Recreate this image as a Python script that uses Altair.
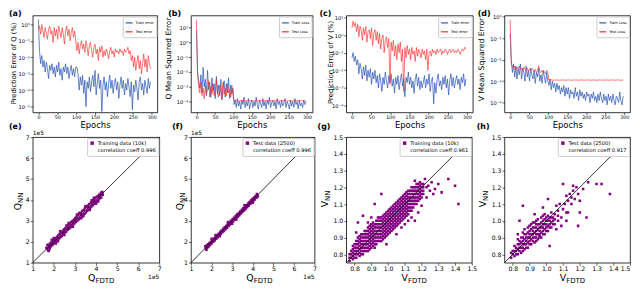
import altair as alt
import pandas as pd

FONT = "DejaVu Sans"
BLUE = "#2a55b3"
RED = "#ff2424"
PURPLE = "#800080"

EPOCHS = list(range(0, 300, 3))

# ---- (a) Prediction error of Q (%) : log10 values ----
a_train = [0.3, -1.6, -2.4, -1.9, -2.6, -2.2, -2.9, -2.3, -2.7, -3.3,
           -2.5, -2.8, -2.4, -3.0, -2.6, -3.2, -2.5, -2.9, -2.3, -3.1,
           -2.7, -3.4, -2.6, -2.9, -2.4, -3.0, -2.6, -3.3, -2.8, -2.5,
           -3.1, -2.7, -3.2, -2.6, -2.6, -3.0, -4.0, -3.2, -3.7, -3.1,
           -4.2, -3.4, -5.0, -3.5, -3.9, -3.2, -4.1, -3.5, -3.1, -3.8,
           -2.8, -4.3, -3.6, -3.0, -3.9, -3.4, -5.3, -3.7, -3.2, -4.0,
           -3.5, -4.4, -3.6, -3.1, -3.9, -3.4, -4.2, -3.6, -3.3, -4.0,
           -3.5, -4.5, -3.7, -3.2, -3.9, -3.4, -4.3, -3.6, -4.0, -3.3,
           -3.8, -4.4, -3.5, -5.2, -3.7, -4.1, -3.4, -3.9, -4.6, -3.5,
           -3.2, -4.0, -3.6, -4.3, -3.4, -3.8, -4.2, -3.3, -3.9, -3.5]
a_test = [-0.3, -0.1, -0.6, 0.0, -0.4, -0.8, -0.2, -0.5, -0.9, -0.3,
          -0.1, -0.6, -0.4, -1.1, -0.2, -0.7, -0.3, -0.9, -0.1, -0.5,
          -0.8, -0.2, -0.6, -1.2, -0.4, -0.1, -0.7, -0.3, -1.0, -0.5,
          -0.2, -0.8, -0.4, -1.0, -1.6, -1.1, -1.8, -1.3, -1.0, -1.5,
          -1.2, -1.7, -1.0, -1.4, -1.9, -1.3, -1.1, -1.6, -2.0, -1.4,
          -1.2, -1.8, -1.5, -2.2, -1.4, -1.7, -1.3, -2.0, -1.6, -1.9,
          -1.5, -1.7, -2.1, -1.6, -1.4, -1.8, -1.6, -2.0, -1.5, -1.7,
          -1.6, -1.8, -1.5, -1.7, -1.6, -1.9, -1.5, -1.7, -1.6, -1.4,
          -1.8, -1.6, -2.2, -1.9, -2.6, -2.0, -2.8, -2.3, -1.9, -2.7,
          -2.2, -3.0, -2.4, -1.8, -2.6, -2.1, -2.9, -1.9, -2.4, -2.7]

# ---- (b) Q mean squared error : log10 values ----
b_train = [0.8, -2.0, -2.6, -3.1, -2.2, -3.4, -1.7, -3.0, -2.5, -3.6,
           -1.9, -3.2, -2.7, -3.7, -2.4, -3.3, -2.8, -3.8, -2.3, -3.5,
           -2.9, -3.6, -2.5, -3.9, -3.0, -2.6, -3.7, -2.8, -3.4, -2.4,
           -3.8, -2.9, -3.5, -3.1, -4.2, -3.9, -4.4, -3.8, -4.3, -4.0,
           -4.5, -3.9, -4.2, -3.7, -4.4, -4.0, -4.3, -3.8, -4.5, -4.1,
           -3.9, -4.4, -4.0, -4.3, -3.7, -4.2, -4.5, -3.9, -4.1, -4.4,
           -3.8, -4.3, -4.0, -4.5, -3.9, -4.2, -3.7, -4.4, -4.1, -3.9,
           -4.3, -4.0, -4.5, -3.8, -4.2, -4.0, -4.4, -3.9, -4.3, -4.1,
           -3.8, -4.4, -4.0, -4.2, -4.5, -3.9, -4.3, -4.0, -4.4, -3.8,
           -4.2, -4.0, -4.5, -3.9, -4.3, -4.1, -4.4, -3.9, -4.2, -4.0]
b_test = [1.5, -2.2, -3.0, -3.4, -2.7, -3.6, -3.1, -3.8, -2.9, -3.5,
          -3.2, -2.6, -3.7, -3.0, -3.5, -2.8, -3.6, -3.3, -2.5, -3.4,
          -3.7, -2.9, -3.3, -3.8, -2.7, -3.5, -3.1, -3.6, -2.8, -3.4,
          -3.2, -3.7, -2.9, -3.5, -3.95, -3.95, -3.9, -3.95, -4.0, -3.95,
          -3.95, -3.93, -3.96, -3.94, -3.97, -3.95, -3.92, -3.96, -3.94, -3.95,
          -3.96, -3.94, -3.95, -3.97, -3.93, -3.95, -3.96, -3.94, -3.95, -3.93,
          -3.95, -3.97, -3.94, -3.95, -3.96, -3.93, -3.95, -3.94, -3.96, -3.95,
          -3.94, -3.96, -3.95, -3.93, -3.95, -3.97, -3.94, -3.95, -3.96, -3.94,
          -3.95, -3.93, -3.96, -3.95, -3.94, -3.96, -3.95, -3.97, -3.94, -3.95,
          -3.96, -3.94, -3.95, -3.93, -3.95, -3.96, -3.94, -3.95, -3.97, -3.95]

# ---- (c) Prediction error of V (%) : log10 values ----
c_train = [-1.3, -1.0, -1.5, -1.2, -1.7, -1.4, -2.2, -1.6, -1.9, -2.5,
           -1.8, -2.3, -1.7, -2.6, -2.0, -2.4, -1.9, -2.8, -2.1, -2.5,
           -2.0, -2.7, -2.3, -3.0, -2.2, -2.6, -3.2, -2.4, -2.8, -2.1,
           -2.6, -3.0, -2.3, -2.7, -2.2, -2.9, -2.5, -3.3, -2.4, -2.8,
           -2.3, -3.1, -2.6, -2.2, -2.9, -2.5, -3.5, -2.4, -2.7, -2.1,
           -2.8, -2.4, -3.0, -2.6, -3.3, -2.5, -2.2, -2.9, -2.4, -3.1,
           -2.6, -3.0, -2.7, -2.3, -3.0, -2.5, -2.8, -2.2, -3.2, -2.6,
           -2.4, -3.9, -2.7, -3.3, -2.5, -2.2, -2.9, -2.6, -3.1, -2.4,
           -2.8, -2.3, -3.0, -2.5, -3.4, -2.6, -2.2, -2.9, -2.4, -3.0,
           -2.6, -2.3, -2.8, -2.5, -3.1, -2.4, -2.7, -2.2, -2.9, -2.5]
c_test = [0.4, 0.8, 0.5, 0.7, 0.2, 0.6, -0.1, 0.5, 0.3, -0.3,
          0.4, 0.0, 0.5, -0.4, 0.2, 0.3, -0.2, 0.4, -0.6, 0.1,
          0.3, -0.3, 0.2, -0.5, 0.1, -0.8, -0.2, 0.0, -1.0, -0.3,
          -0.1, -0.7, -0.2, -2.8, -0.4, -0.9, -0.3, -1.2, -0.6, -1.4,
          -0.5, -1.0, -0.4, -1.5, -0.8, -3.2, -0.7, -1.3, -0.6, -1.1,
          -0.8, -1.4, -0.7, -1.1, -0.9, -1.5, -0.7, -1.2, -0.8, -1.0,
          -1.3, -0.8, -1.1, -0.9, -1.4, -0.8, -2.0, -1.0, -0.9, -1.2,
          -0.8, -1.0, -0.9, -1.1, -0.8, -1.0, -0.9, -0.8, -1.1, -0.9,
          -1.0, -0.8, -0.9, -1.1, -0.9, -0.8, -1.0, -0.9, -0.8, -1.0,
          -0.9, -1.0, -0.8, -0.9, -1.1, -0.9, -0.8, -0.9, -0.7, -0.8]

# ---- (d) V mean squared error : log10 values ----
d_train = [-0.8, -2.0, -2.6, -2.2, -2.8, -2.3, -2.9, -2.4, -2.7, -2.2,
           -2.9, -2.4, -2.6, -3.0, -2.3, -2.8, -2.5, -3.0, -2.4, -2.7,
           -2.9, -2.5, -3.1, -2.6, -2.8, -2.4, -3.0, -2.7, -3.1, -2.5,
           -2.8, -3.1, -2.6, -3.0, -3.2, -2.9, -3.4, -3.0, -3.3, -3.1,
           -3.5, -3.1, -3.4, -3.2, -3.6, -3.3, -3.5, -3.2, -3.7, -3.3,
           -3.6, -3.3, -3.8, -3.4, -3.6, -3.5, -3.8, -3.3, -3.7, -3.5,
           -3.9, -3.4, -3.7, -3.5, -3.8, -3.6, -3.9, -3.5, -3.7, -3.6,
           -4.0, -3.6, -3.8, -3.5, -3.9, -3.7, -4.0, -3.6, -3.9, -3.5,
           -3.8, -4.0, -3.6, -3.9, -3.7, -4.1, -3.6, -3.9, -3.7, -4.0,
           -3.6, -3.9, -4.1, -3.7, -3.8, -4.0, -3.5, -3.9, -4.1, -3.7]
d_test = [-0.15, -2.2, -2.3, -2.4, -2.3, -2.5, -2.35, -2.4, -2.3, -2.45,
          -2.4, -2.5, -2.35, -2.45, -2.5, -2.4, -2.55, -2.45, -2.5, -2.4,
          -2.5, -2.55, -2.45, -2.6, -2.5, -2.3, -2.55, -2.6, -2.5, -2.6,
          -2.55, -2.65, -2.5, -2.6, -2.95, -2.95, -2.94, -2.95, -2.96, -2.95,
          -2.95, -2.94, -2.95, -2.96, -2.95, -2.95, -2.94, -2.95, -2.95, -2.96,
          -2.95, -2.94, -2.95, -2.95, -2.96, -2.95, -2.94, -2.95, -2.95, -2.95,
          -2.96, -2.95, -2.94, -2.95, -2.95, -2.96, -2.95, -2.94, -2.95, -2.95,
          -2.95, -2.96, -2.95, -2.94, -2.95, -2.95, -2.96, -2.95, -2.94, -2.95,
          -2.95, -2.95, -2.96, -2.95, -2.94, -2.95, -2.95, -2.96, -2.95, -2.94,
          -2.95, -2.95, -2.96, -2.95, -2.94, -2.95, -2.95, -2.96, -2.95, -2.95]

# ---- (e) Q training scatter (x1e5) ----
e_pts = [(1.68, 1.72), (1.72, 1.60), (1.75, 1.86), (1.78, 1.74), (1.82, 1.92), (1.85, 1.78), (1.88, 1.97), (1.92, 1.84), (1.95, 2.04), (1.98, 1.90),
         (2.02, 2.10), (2.05, 1.96), (2.08, 2.17), (2.12, 2.03), (2.15, 2.24), (2.18, 2.10), (2.22, 2.31), (2.25, 2.16), (2.28, 2.38), (2.32, 2.22),
         (2.35, 2.45), (2.38, 2.28), (2.42, 2.52), (2.45, 2.36), (2.48, 2.59), (2.52, 2.44), (2.55, 2.65), (2.58, 2.48), (2.62, 2.73), (2.65, 2.56),
         (2.68, 2.79), (2.72, 2.62), (2.75, 2.85), (2.78, 2.68), (2.82, 2.93), (2.85, 2.76), (2.88, 2.99), (2.92, 2.82), (2.95, 3.05), (2.98, 2.88),
         (3.02, 3.13), (3.05, 2.94), (3.08, 3.19), (3.12, 3.02), (3.15, 3.27), (3.18, 3.08), (3.22, 3.33), (3.25, 3.14), (3.28, 3.39), (3.32, 3.20),
         (3.35, 3.47), (3.38, 3.28), (3.42, 3.53), (3.45, 3.34), (3.48, 3.61), (3.52, 3.40), (3.55, 3.67), (3.58, 3.48), (3.62, 3.73), (3.65, 3.54),
         (3.68, 3.79), (3.72, 3.60), (3.75, 3.87), (3.78, 3.68), (3.82, 3.93), (3.85, 3.74), (3.88, 3.99), (3.92, 3.82), (3.95, 4.07), (3.98, 3.88),
         (4.02, 4.13), (4.05, 3.94), (4.08, 4.19), (4.12, 4.02), (4.15, 4.25), (4.18, 4.08), (4.22, 4.29), (4.25, 4.12), (4.28, 4.31), (1.80, 1.66),
         (2.40, 2.46), (3.00, 3.06), (3.60, 3.66), (4.20, 4.20), (2.70, 2.66), (3.30, 3.28), (1.76, 1.56), (2.10, 2.12), (3.90, 3.92), (2.90, 2.95),
         (1.70, 1.85), (1.90, 2.10), (2.10, 1.92), (2.30, 2.50), (2.50, 2.32), (2.70, 2.90), (2.90, 2.72), (3.10, 3.30), (3.30, 3.12), (3.50, 3.70),
         (3.70, 3.52), (3.90, 4.10), (4.10, 3.92), (2.00, 2.18), (2.60, 2.78), (3.20, 3.38), (3.80, 3.98), (2.20, 2.02), (3.40, 3.22), (4.00, 3.82),
         (4.30, 4.38), (4.25, 4.35), (1.65, 1.70), (4.32, 4.25)]

# ---- (f) Q test scatter (x1e5) ----
f_pts = [(1.70, 1.78), (1.73, 1.66), (1.76, 1.82), (1.79, 1.72), (1.83, 1.88), (1.86, 1.78), (1.90, 1.94), (1.93, 1.85), (1.97, 2.00), (2.00, 1.92),
         (2.04, 2.08), (2.08, 2.00), (2.12, 2.16), (2.15, 2.06), (2.19, 2.24), (2.23, 2.14), (2.27, 2.31), (2.30, 2.22), (2.34, 2.38), (2.38, 2.30),
         (2.42, 2.47), (2.45, 2.37), (2.49, 2.54), (2.53, 2.45), (2.57, 2.62), (2.60, 2.52), (2.64, 2.69), (2.68, 2.60), (2.72, 2.77), (2.75, 2.67),
         (2.79, 2.85), (2.83, 2.75), (2.87, 2.92), (2.90, 2.82), (2.94, 3.00), (2.98, 2.90), (3.02, 3.08), (3.05, 2.97), (3.09, 3.15), (3.13, 3.05),
         (3.17, 3.23), (3.20, 3.12), (3.24, 3.30), (3.28, 3.20), (3.32, 3.38), (3.35, 3.27), (3.39, 3.45), (3.43, 3.35), (3.47, 3.53), (3.50, 3.42),
         (3.54, 3.60), (3.58, 3.50), (3.62, 3.68), (3.65, 3.57), (3.69, 3.75), (3.73, 3.65), (3.77, 3.83), (3.80, 3.72), (3.84, 3.90), (3.88, 3.80),
         (3.92, 3.98), (3.95, 3.87), (3.99, 4.05), (4.03, 3.95), (4.07, 4.12), (4.10, 4.02), (4.14, 4.19), (4.18, 4.10), (4.22, 4.24), (4.25, 4.16),
         (1.75, 1.62), (2.00, 2.14), (2.40, 2.26), (2.80, 2.94), (3.20, 3.06), (3.60, 3.74), (4.00, 3.86), (4.20, 4.28), (2.20, 2.32), (3.00, 2.86)]

# ---- (g) V training scatter ----
g_pts = [(0.77, 0.76), (0.77, 0.78), (0.77, 0.80),
         (0.79, 0.77), (0.79, 0.79), (0.79, 0.81), (0.79, 0.83), (0.79, 0.85),
         (0.81, 0.78), (0.81, 0.80), (0.81, 0.82), (0.81, 0.84), (0.81, 0.86), (0.81, 0.88),
         (0.83, 0.79), (0.83, 0.81), (0.83, 0.83), (0.83, 0.85), (0.83, 0.87), (0.83, 0.89), (0.83, 0.91),
         (0.85, 0.80), (0.85, 0.82), (0.85, 0.84), (0.85, 0.86), (0.85, 0.88), (0.85, 0.90), (0.85, 0.92),
         (0.87, 0.82), (0.87, 0.84), (0.87, 0.86), (0.87, 0.88), (0.87, 0.90), (0.87, 0.92), (0.87, 0.94),
         (0.89, 0.83), (0.89, 0.85), (0.89, 0.87), (0.89, 0.89), (0.89, 0.91), (0.89, 0.93), (0.89, 0.95), (0.89, 0.97),
         (0.91, 0.85), (0.91, 0.87), (0.91, 0.89), (0.91, 0.91), (0.91, 0.93), (0.91, 0.95), (0.91, 0.97), (0.91, 0.99),
         (0.93, 0.86), (0.93, 0.88), (0.93, 0.90), (0.93, 0.92), (0.93, 0.94), (0.93, 0.96), (0.93, 0.98), (0.93, 1.00),
         (0.95, 0.88), (0.95, 0.90), (0.95, 0.92), (0.95, 0.94), (0.95, 0.96), (0.95, 0.98), (0.95, 1.00), (0.95, 1.02),
         (0.97, 0.89), (0.97, 0.91), (0.97, 0.93), (0.97, 0.95), (0.97, 0.97), (0.97, 0.99), (0.97, 1.01), (0.97, 1.03),
         (0.99, 0.91), (0.99, 0.93), (0.99, 0.95), (0.99, 0.97), (0.99, 0.99), (0.99, 1.01), (0.99, 1.03), (0.99, 1.05),
         (1.01, 0.93), (1.01, 0.95), (1.01, 0.97), (1.01, 0.99), (1.01, 1.01), (1.01, 1.03), (1.01, 1.05), (1.01, 1.07),
         (1.03, 0.95), (1.03, 0.97), (1.03, 0.99), (1.03, 1.01), (1.03, 1.03), (1.03, 1.05), (1.03, 1.07), (1.03, 1.09),
         (1.05, 0.97), (1.05, 0.99), (1.05, 1.01), (1.05, 1.03), (1.05, 1.05), (1.05, 1.07), (1.05, 1.09), (1.05, 1.11),
         (1.07, 0.99), (1.07, 1.01), (1.07, 1.03), (1.07, 1.05), (1.07, 1.07), (1.07, 1.09), (1.07, 1.11), (1.07, 1.13),
         (1.09, 1.01), (1.09, 1.03), (1.09, 1.05), (1.09, 1.07), (1.09, 1.09), (1.09, 1.11), (1.09, 1.13), (1.09, 1.15),
         (1.11, 1.03), (1.11, 1.05), (1.11, 1.07), (1.11, 1.09), (1.11, 1.11), (1.11, 1.13), (1.11, 1.15), (1.11, 1.17),
         (1.13, 1.06), (1.13, 1.08), (1.13, 1.10), (1.13, 1.12), (1.13, 1.14), (1.13, 1.16), (1.13, 1.18),
         (1.15, 1.08), (1.15, 1.10), (1.15, 1.12), (1.15, 1.14), (1.15, 1.16), (1.15, 1.18), (1.15, 1.20),
         (1.17, 1.10), (1.17, 1.12), (1.17, 1.14), (1.17, 1.16), (1.17, 1.18), (1.17, 1.20), (1.17, 1.22),
         (1.19, 1.13), (1.19, 1.15), (1.19, 1.17), (1.19, 1.19), (1.19, 1.21),
         (1.21, 1.16), (1.21, 1.18), (1.21, 1.20), (1.21, 1.22),
         (0.78, 0.78), (0.78, 0.80), (0.78, 0.82),
         (0.80, 0.78), (0.80, 0.80), (0.80, 0.82), (0.80, 0.84), (0.80, 0.86),
         (0.82, 0.80), (0.82, 0.82), (0.82, 0.84), (0.82, 0.86), (0.82, 0.88), (0.82, 0.90),
         (0.84, 0.80), (0.84, 0.82), (0.84, 0.84), (0.84, 0.86), (0.84, 0.88), (0.84, 0.90), (0.84, 0.92),
         (0.86, 0.82), (0.86, 0.84), (0.86, 0.86), (0.86, 0.88), (0.86, 0.90), (0.86, 0.92), (0.86, 0.94),
         (0.88, 0.82), (0.88, 0.84), (0.88, 0.86), (0.88, 0.88), (0.88, 0.90), (0.88, 0.92), (0.88, 0.94), (0.88, 0.96),
         (0.90, 0.84), (0.90, 0.86), (0.90, 0.88), (0.90, 0.90), (0.90, 0.92), (0.90, 0.94), (0.90, 0.96), (0.90, 0.98),
         (0.92, 0.86), (0.92, 0.88), (0.92, 0.90), (0.92, 0.92), (0.92, 0.94), (0.92, 0.96), (0.92, 0.98),
         (0.94, 0.88), (0.94, 0.90), (0.94, 0.92), (0.94, 0.94), (0.94, 0.96), (0.94, 0.98), (0.94, 1.00), (0.94, 1.02),
         (0.96, 0.88), (0.96, 0.90), (0.96, 0.92), (0.96, 0.94), (0.96, 0.96), (0.96, 0.98), (0.96, 1.00), (0.96, 1.02),
         (0.98, 0.90), (0.98, 0.92), (0.98, 0.94), (0.98, 0.96), (0.98, 0.98), (0.98, 1.00), (0.98, 1.02), (0.98, 1.04),
         (1.00, 0.92), (1.00, 0.94), (1.00, 0.96), (1.00, 0.98), (1.00, 1.00), (1.00, 1.02), (1.00, 1.04), (1.00, 1.06),
         (1.02, 0.94), (1.02, 0.96), (1.02, 0.98), (1.02, 1.00), (1.02, 1.02), (1.02, 1.04), (1.02, 1.06), (1.02, 1.08),
         (1.04, 0.96), (1.04, 0.98), (1.04, 1.00), (1.04, 1.02), (1.04, 1.04), (1.04, 1.06), (1.04, 1.08), (1.04, 1.10),
         (1.06, 0.98), (1.06, 1.00), (1.06, 1.02), (1.06, 1.04), (1.06, 1.06), (1.06, 1.08), (1.06, 1.10), (1.06, 1.12),
         (1.08, 1.00), (1.08, 1.02), (1.08, 1.04), (1.08, 1.06), (1.08, 1.08), (1.08, 1.10), (1.08, 1.12), (1.08, 1.14),
         (1.10, 1.02), (1.10, 1.04), (1.10, 1.06), (1.10, 1.08), (1.10, 1.10), (1.10, 1.12), (1.10, 1.14), (1.10, 1.16),
         (1.12, 1.04), (1.12, 1.06), (1.12, 1.08), (1.12, 1.10), (1.12, 1.12), (1.12, 1.14), (1.12, 1.16), (1.12, 1.18),
         (1.14, 1.06), (1.14, 1.08), (1.14, 1.10), (1.14, 1.12), (1.14, 1.14), (1.14, 1.16), (1.14, 1.18), (1.14, 1.20),
         (1.16, 1.10), (1.16, 1.12), (1.16, 1.14), (1.16, 1.16), (1.16, 1.18), (1.16, 1.20),
         (1.18, 1.12), (1.18, 1.14), (1.18, 1.16), (1.18, 1.18), (1.18, 1.20), (1.18, 1.22),
         (1.20, 1.14), (1.20, 1.16), (1.20, 1.18), (1.20, 1.20), (1.20, 1.22),
         (0.96, 1.16), (0.92, 1.10), (0.82, 0.99), (0.85, 1.03), (0.81, 0.93), (1.14, 1.02), (1.16, 1.00), (1.05, 0.92),
         (0.99, 0.86), (0.92, 0.84), (1.08, 0.96), (1.16, 1.24), (1.19, 1.23), (1.22, 1.25), (1.24, 1.21), (1.26, 1.23),
         (1.28, 1.19), (1.30, 1.22), (1.32, 1.17), (1.25, 1.18), (1.23, 1.20), (1.36, 1.25), (1.40, 1.21), (1.42, 1.10),
         (1.23, 1.14), (1.20, 1.09), (0.88, 0.99), (1.12, 1.00), (1.18, 1.05), (0.90, 1.02), (1.10, 0.98), (1.27, 1.16)]

# ---- (h) V test scatter ----
h_pts = [(0.79, 0.78), (0.79, 0.81),
         (0.81, 0.79), (0.81, 0.82), (0.81, 0.85),
         (0.83, 0.80), (0.83, 0.83), (0.83, 0.86), (0.83, 0.89),
         (0.85, 0.81), (0.85, 0.84), (0.85, 0.87), (0.85, 0.90),
         (0.87, 0.83), (0.87, 0.86), (0.87, 0.89), (0.87, 0.92), (0.87, 0.95),
         (0.89, 0.84), (0.89, 0.87), (0.89, 0.90), (0.89, 0.93), (0.89, 0.96),
         (0.91, 0.86), (0.91, 0.89), (0.91, 0.92), (0.91, 0.95), (0.91, 0.98),
         (0.93, 0.87), (0.93, 0.90), (0.93, 0.93), (0.93, 0.96), (0.93, 0.99),
         (0.95, 0.89), (0.95, 0.92), (0.95, 0.95), (0.95, 0.98), (0.95, 1.01),
         (0.97, 0.90), (0.97, 0.93), (0.97, 0.96), (0.97, 0.99), (0.97, 1.02),
         (0.99, 0.92), (0.99, 0.95), (0.99, 0.98), (0.99, 1.01), (0.99, 1.04),
         (1.01, 0.94), (1.01, 0.97), (1.01, 1.00), (1.01, 1.03),
         (1.03, 0.96), (1.03, 0.99), (1.03, 1.02), (1.03, 1.05),
         (1.05, 0.98), (1.05, 1.01), (1.05, 1.04),
         (1.07, 1.00), (1.07, 1.03), (1.07, 1.06),
         (0.80, 0.80), (0.80, 0.82), (0.82, 0.80), (0.82, 0.82), (0.82, 0.84),
         (0.84, 0.82), (0.84, 0.84), (0.84, 0.86), (0.84, 0.88),
         (0.86, 0.82), (0.86, 0.84), (0.86, 0.86), (0.86, 0.88), (0.86, 0.90),
         (0.88, 0.84), (0.88, 0.86), (0.88, 0.88), (0.88, 0.90), (0.88, 0.92),
         (0.90, 0.86), (0.90, 0.88), (0.90, 0.90), (0.90, 0.92), (0.90, 0.94),
         (0.92, 0.88), (0.92, 0.90), (0.92, 0.92), (0.92, 0.94), (0.92, 0.96),
         (0.94, 0.88), (0.94, 0.90), (0.94, 0.92), (0.94, 0.94), (0.94, 0.96), (0.94, 0.98),
         (0.96, 0.90), (0.96, 0.92), (0.96, 0.94), (0.96, 0.96), (0.96, 0.98),
         (0.98, 0.92), (0.98, 0.94), (0.98, 0.96), (0.98, 0.98), (0.98, 1.00),
         (1.00, 0.94), (1.00, 0.96), (1.00, 0.98), (1.00, 1.00), (1.00, 1.02),
         (1.02, 0.96), (1.02, 0.98), (1.02, 1.00), (1.02, 1.02),
         (1.04, 0.98), (1.04, 1.00), (1.04, 1.02),
         (0.90, 0.97), (0.94, 1.00), (0.98, 1.03), (0.86, 0.93), (0.96, 0.91), (0.92, 0.99),
         (1.09, 1.02), (1.10, 1.07), (1.08, 1.10), (1.12, 1.05), (1.13, 1.12), (1.15, 1.10), (1.14, 1.16), (1.16, 1.18),
         (1.17, 1.13), (1.18, 1.20), (1.12, 1.15), (1.15, 1.14), (1.19, 1.16), (1.16, 1.21), (1.11, 1.10), (1.06, 1.09),
         (0.86, 1.09), (0.84, 1.00), (1.01, 1.13), (0.98, 1.08), (0.93, 1.04), (1.25, 1.23), (1.30, 1.22), (1.33, 1.22),
         (1.38, 1.16), (1.13, 1.05), (1.20, 1.05), (1.24, 1.02), (1.19, 0.97), (1.12, 1.00), (1.02, 0.85), (1.06, 0.95),
         (1.09, 0.97), (1.22, 1.19), (1.20, 1.12), (0.83, 0.92), (1.10, 1.22)]

SUP = str.maketrans("-0123456789", "⁻⁰¹²³⁴⁵⁶⁷⁸⁹")


def pow_expr(ticks):
    expr = "''"
    for t in ticks:
        expr = f"datum.value == {t} ? '10{str(t).translate(SUP)}' : " + expr
    return expr


def tag_layer(text, dx, dy, baseline):
    return alt.Chart(pd.DataFrame({"t": [text]})).mark_text(
        align="left", baseline=baseline, fontSize=8, fontWeight="bold", font=FONT, color="black"
    ).encode(text="t:N", x=alt.value(dx), y=alt.value(dy))


def text_layer(text, x, y, size, align="left", angle=0, baseline="alphabetic"):
    return alt.Chart(pd.DataFrame({"t": [text]})).mark_text(
        align=align, baseline=baseline, fontSize=size, font=FONT, color="black", angle=angle
    ).encode(text="t:N", x=alt.value(x), y=alt.value(y))


def top_panel(train, test, names, ylabel, ydom, ticks, w, tag, tag_dx, title_x, title_size, title_y):
    h = 98
    df_tr = pd.DataFrame({"epoch": EPOCHS, "v": train, "s": names[0]})
    df_te = pd.DataFrame({"epoch": EPOCHS, "v": test, "s": names[1]})
    color = alt.Color("s:N", scale=alt.Scale(domain=names, range=[BLUE, RED]),
                      legend=alt.Legend(title=None, orient="top-right", offset=1, labelFontSize=3.6,
                                        labelFont=FONT, symbolType="stroke", symbolSize=49,
                                        symbolStrokeWidth=1.3, padding=2, rowPadding=1, labelOffset=2,
                                        fillColor="white", strokeColor="#cccccc", cornerRadius=1,
                                        labelColor="black"))
    x = alt.X("epoch:Q", scale=alt.Scale(domain=[-15, 315], nice=False, zero=False),
              axis=alt.Axis(values=[0, 50, 100, 150, 200, 250, 300], title="Epochs", titleFontSize=8.5,
                            titleY=14.8, titleBaseline="alphabetic", labelFontSize=4.8, tickSize=2,
                            labelPadding=0.5, labelOverlap=False))
    y = alt.Y("v:Q", scale=alt.Scale(domain=ydom, nice=False, zero=False),
              axis=alt.Axis(values=ticks, labelExpr=pow_expr(ticks), title=ylabel, titleFontSize=title_size,
                            titleX=title_x, titleY=title_y, titleAngle=270, titleBaseline="bottom",
                            titleAlign="center", labelFontSize=5.2, labelOverlap=False))
    l1 = alt.Chart(df_tr).mark_line(strokeWidth=0.8, opacity=0.9, clip=True).encode(x=x, y=y, color=color)
    l2 = alt.Chart(df_te).mark_line(strokeWidth=0.8, opacity=0.8, clip=True).encode(x=x, y=y, color=color)
    return alt.layer(l1, l2, tag_layer(tag, tag_dx, -5, "top")).properties(width=w, height=h)


def scatter_panel(pts, dom, ticks, fmt, letter, leg1, leg2, w, tag, tag_dx, ytx, yty, offset_text, flush):
    h = 127
    df = pd.DataFrame(pts, columns=["x", "y"])
    df["s"] = leg1
    diag = pd.DataFrame({"x": dom, "y": dom})
    color = alt.Color("s:N", scale=alt.Scale(domain=[leg1], range=[PURPLE]),
                      legend=alt.Legend(title=None, orient="top-right", offset=1,
                                        labelExpr=f"['{leg1}', '{leg2}']", labelFontSize=5.2,
                                        labelFont=FONT, symbolType="square", symbolSize=12,
                                        padding=2.5, fillColor="white", strokeColor="#cccccc",
                                        cornerRadius=1, labelColor="black", labelOffset=3))
    x = alt.X("x:Q", scale=alt.Scale(domain=dom, nice=False, zero=False),
              axis=alt.Axis(values=ticks, format=fmt, title=None, labelFontSize=6.2, labelFlush=flush,
                            labelOverlap=False, labelSeparation=0, labelPadding=0.5))
    y = alt.Y("y:Q", scale=alt.Scale(domain=dom, nice=False, zero=False),
              axis=alt.Axis(values=ticks, format=fmt, title=None, labelFontSize=6.2, labelOverlap=False,
                            labelSeparation=0))
    pts_l = alt.Chart(df).mark_square(size=6.5, opacity=1, clip=True).encode(x=x, y=y, color=color)
    line_l = alt.Chart(diag).mark_line(color="black", strokeWidth=0.8).encode(x=x, y=y)
    layers = [pts_l, line_l,
              tag_layer(tag, tag_dx, -8, "alphabetic"),
              text_layer(letter, 56, h + 19, 9.5),
              text_layer("FDTD", 56 + (7.5 if letter == "Q" else 6.5), h + 21, 7),
              text_layer(letter, ytx - 2, yty, 9.5, angle=270),
              text_layer("NN", ytx, yty - (7.5 if letter == "Q" else 6.5), 7, angle=270)]
    if offset_text:
        layers.append(text_layer("1e5", 0, -2, 6))
        layers.append(text_layer("1e5", w, h + 16, 6, align="right"))
    return alt.layer(*layers).properties(width=w, height=h)


names_err = ["Train error", "Test error"]
names_loss = ["Train Loss", "Test Loss"]

pa = top_panel(a_train, a_test, names_err, "Prediction Error of Q (%)", [-5.36, 0.54],
               [0, -1, -2, -3, -4, -5], 126, "(a)", -24, -16, 6.8, 48)
pb = top_panel(b_train, b_test, names_loss, "Q Mean Squared Error", [-4.73, 1.8],
               [1, 0, -1, -2, -3, -4], 123, "(b)", -23, -19, 7.5, 43)
pc = top_panel(c_train, c_test, names_err, "Prediction Error of V (%)", [-4.39, 1.11],
               [1, 0, -1, -2, -3, -4], 128, "(c)", -27, -13, 7.0, 47)
pd_ = top_panel(d_train, d_test, names_loss, "V Mean Squared Error", [-4.45, 0.05],
                [0, -1, -2, -3, -4], 127, "(d)", -27, -19, 7.7, 44)

q_ticks = [1, 2, 3, 4, 5, 6, 7]
v_ticks = [0.8, 0.9, 1.0, 1.1, 1.2, 1.3, 1.4, 1.5]

pe = scatter_panel(e_pts, [1, 7], q_ticks, "d", "Q", "Training data (10k)", "correlation coeff 0.996",
                   128, "(e)", -24, -10, 74, True, False)
pf = scatter_panel(f_pts, [1, 7], q_ticks, "d", "Q", "Test data (2500)", "correlation coeff 0.996",
                   125, "(f)", -19, -6, 74, True, False)
pg = scatter_panel(g_pts, [0.75, 1.5], v_ticks, ".1f", "V", "Training data (10k)", "correlation coeff 0.961",
                   127, "(g)", -29, -16, 71, False, False)
ph = scatter_panel(h_pts, [0.75, 1.5], v_ticks, ".1f", "V", "Test data (2500)", "correlation coeff 0.917",
                   127, "(h)", -28, -17, 71, False, True)

chart = alt.concat(pa, pb, pc, pd_, pe, pf, pg, ph, columns=4,
                   spacing={"row": 25, "column": 32}, bounds="flush").resolve_scale(
    color="independent"
).properties(
    padding={"left": 0, "top": 0, "right": 0, "bottom": 0}
).configure(font=FONT).configure_view(stroke="black", strokeWidth=0.8).configure_axis(
    domain=False, grid=False, tickColor="black", tickSize=2.5, tickWidth=0.6, labelColor="black",
    labelFont=FONT, titleFont=FONT, titleColor="black", titleFontWeight="normal", labelPadding=1,
    labelOverlap=False
)

chart.save("out.html", embed_options={"renderer": "svg", "actions": False})
